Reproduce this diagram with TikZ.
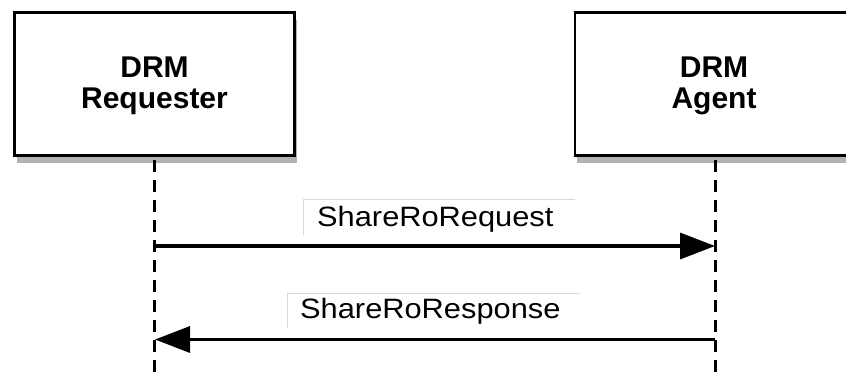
\documentclass[tikz,border=0pt]{standalone}
\usepackage{fontspec}
\setmainfont{Liberation Sans}
\newfontfamily\msgfont[FakeStretch=1.1]{Liberation Sans}
\usetikzlibrary{arrows.meta,shadows}

\begin{document}
\begin{tikzpicture}[x=1pt,y=-1pt,
  actorbox/.style={draw=black, line width=2.5pt, fill=white,
    minimum width=280pt, minimum height=143pt, inner sep=0pt,
    drop shadow={shadow xshift=2pt, shadow yshift=-7pt, fill=gray!60, opacity=1}},
  actortext/.style={anchor=base, inner sep=0pt, font=\fontsize{30pt}{32pt}\selectfont\bfseries},
  lifeline/.style={line width=3pt, dash pattern=on 12pt off 8pt, dash phase=17pt},
  msg/.style={line width=3.5pt, -{Triangle[length=35pt,width=26pt]}},
  msgtext/.style={anchor=base west, inner sep=0pt, font=\fontsize{28pt}{30pt}\msgfont},
  msgframe/.style={draw=gray!30, line width=1pt}]

  \useasboundingbox (0,0) rectangle (846,376);

  % participants
  \node[actorbox] (req) at (154.5,84) {};
  \node[actorbox] (agent) at (715,84) {};
  \node[actortext] (reqA) at (154.5,77) {DRM};
  \node[actortext] (reqB) at (154.5,108) {Requester};
  \node[actortext] (agA) at (714,77) {DRM};
  \node[actortext] (agB) at (714,108) {Agent};

  % lifelines
  \coordinate (reqend) at (154,376);
  \coordinate (agentend) at (715,376);
  \draw[lifeline] (req.south -| reqend) -- (reqend);
  \draw[lifeline] (agent.south -| agentend) -- (agentend);

  % message 1
  \draw[msgframe] (303,235) -- (303,199) -- (575,199);
  \node[msgtext] (m1) at (317,226) {ShareRoRequest};
  \coordinate (m1s) at (154,246);
  \coordinate (m1e) at (715,246);
  \draw[msg] (m1s) -- (m1e);

  % message 2
  \draw[msgframe] (287,328) -- (287,293) -- (580,293);
  \node[msgtext] (m2) at (300,318) {ShareRoResponse};
  \coordinate (m2s) at (715,339.5);
  \coordinate (m2e) at (155,339.5);
  \draw[msg] (m2s) -- (m2e);
\end{tikzpicture}
\end{document}
